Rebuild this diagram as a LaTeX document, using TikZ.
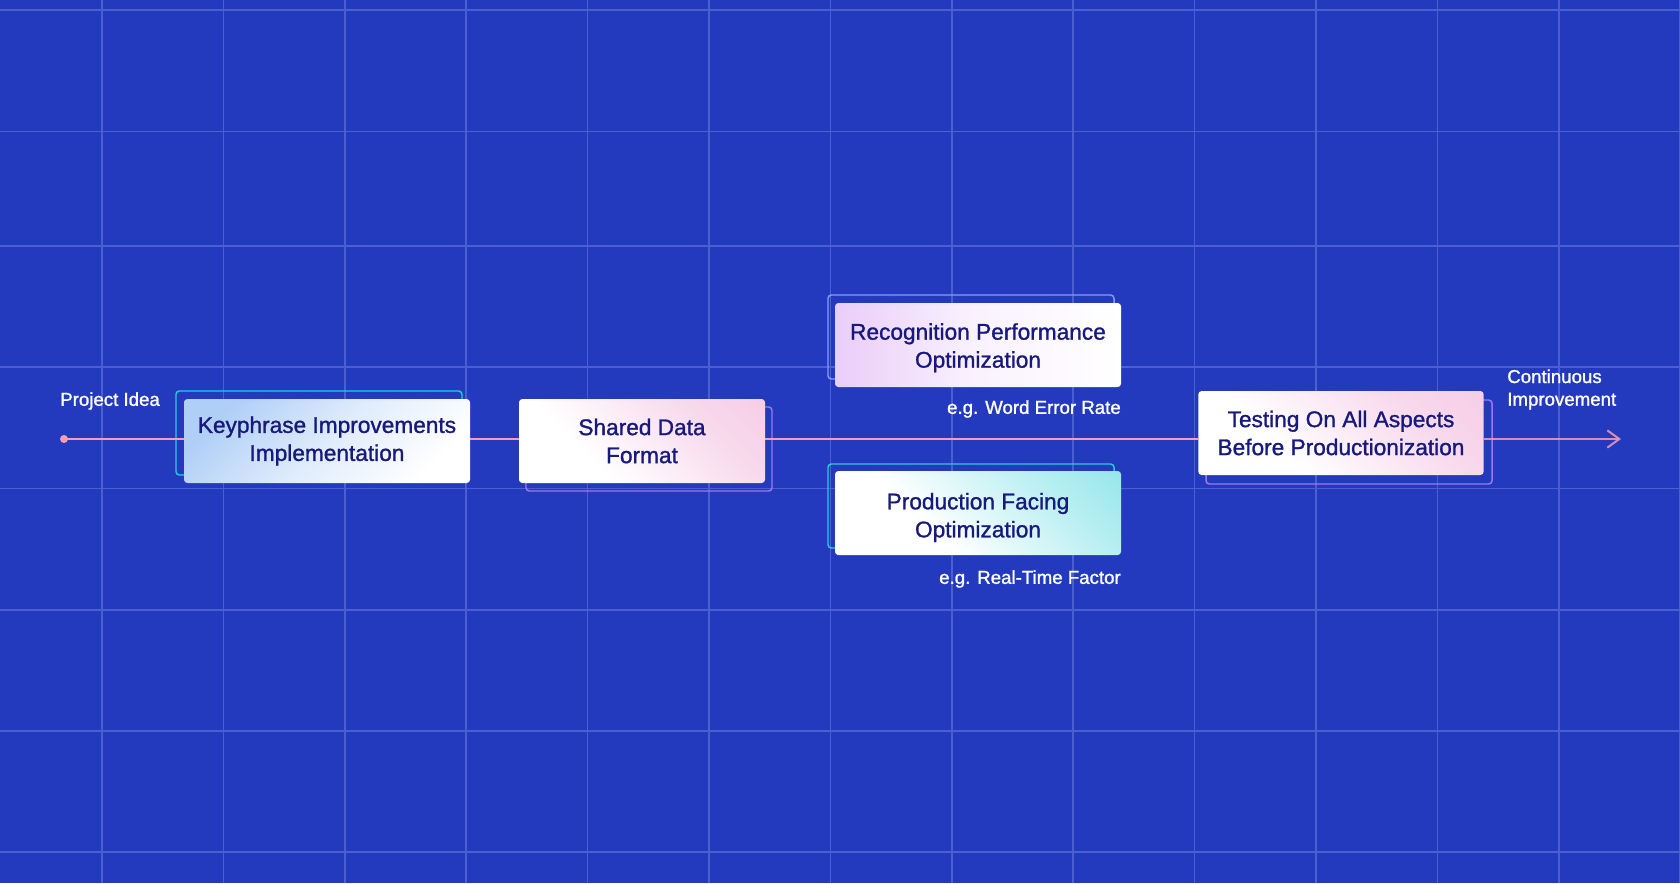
\documentclass[tikz,border=0pt]{standalone}
\usepackage{fontspec}
\setmainfont{Liberation Sans}[FakeBold=1.2]
\usepackage{tikz}
\usetikzlibrary{arrows.meta, calc}
\definecolor{bgblue}{HTML}{233ABF}
\definecolor{gridblue}{HTML}{4A5FD0}
\definecolor{navy}{HTML}{17197C}
\definecolor{linepink}{HTML}{F49DB6}
\definecolor{tealline}{HTML}{27CCDB}
\definecolor{purpline}{HTML}{A476EC}
\definecolor{periline}{HTML}{8A9BF2}
\definecolor{skyfill}{HTML}{B0CFF7}
\definecolor{pinkfill}{HTML}{F4C4E2}
\definecolor{lilacfill}{HTML}{EACDF9}
\definecolor{cyanfill}{HTML}{78E0E6}
\pgfdeclareverticalshading{pinkcorner}{100bp}{color(0bp)=(white); color(35bp)=(white);
  color(68bp)=(pinkfill!65!white); color(100bp)=(pinkfill)}
\pgfdeclareverticalshading{cyancorner}{100bp}{color(0bp)=(white); color(38bp)=(white);
  color(70bp)=(cyanfill!55!white); color(100bp)=(cyanfill)}

\begin{document}
\begin{tikzpicture}[x=0.75pt, y=-0.75pt,
  grid/.style={gridblue, line width=1.1pt},
  timeline/.style={linepink, line width=1.5pt},
  frame/.style={draw=#1, line width=1.1pt, rounded corners=2.5pt, minimum height=63pt, inner sep=0pt},
  box/.style={rounded corners=2.5pt, text=navy, align=center, inner sep=0pt, minimum height=63pt,
    font=\fontsize{17}{21}\selectfont},
  corner/.style={shade, shading=#1, shading angle=-45},
  note/.style={text=white, inner sep=0pt, font=\fontsize{14}{17}\selectfont}]
\useasboundingbox (0,0) rectangle (1680,883);
\fill[bgblue] (0,0) rectangle (1680,883);
\foreach \i in {0,...,13} \draw[grid] ({102+121.4*\i},0)--({102+121.4*\i},883);
\foreach \j in {10,131.5,246,367,488.5,610,731,852} \draw[grid] (0,\j)--(1680,\j);
% frames behind the boxes
\path
(319,433) node[frame=tealline, minimum width=214.5pt] (kpframe) {};
\path
(649,449) node[frame=purpline, minimum width=184.5pt] (sdfframe) {};
\path
(971,337) node[frame=periline, minimum width=214.5pt] (rpoframe) {};
\path
(971,506) node[frame=tealline, minimum width=214.5pt] (pfoframe) {};
\path
(1349,442) node[frame=purpline, minimum width=214.5pt] (tstframe) {};
% boxes
\path
(327,441) node[box, minimum width=214.5pt, top color=skyfill, bottom color=white,
  middle color=skyfill!40!white, shading angle=45] (kp)
{Keyphrase Improvements\\Implementation};
\path
(642,441) node[box, minimum width=184.5pt, corner=pinkcorner] (sdf)
{Shared Data\\Format};
\path
(978,345) node[box, minimum width=214.5pt, left color=lilacfill, right color=white,
  middle color=lilacfill!25!white] (rpo)
{\rule{0pt}{16.5pt}Recognition Performance\\Optimization};
\path
(978,513) node[box, minimum width=214.5pt, corner=cyancorner] (pfo)
{\rule{0pt}{19pt}Production Facing\\Optimization};
\path
(1341,433) node[box, minimum width=214pt, corner=pinkcorner] (tst)
{Testing On All Aspects\\Before Productionization};
% timeline
\coordinate (start) at (64,439);
\coordinate (end) at (1621,439);
\fill[linepink] (start) circle (3pt);
\draw[timeline] (start)--(start -| kp.west);
\draw[timeline] (start -| kp.east)--(start -| sdf.west);
\draw[timeline] (start -| sdf.east)--(start -| tst.west);
\draw[timeline, opacity=0.85, -{Straight Barb[length=9pt, width=13pt]}] (start -| tst.east)--(end);
% labels
\path
(60,401) node[note, anchor=west] (idea) {Project Idea};
\path
(1121,409) node[note, anchor=east] (wer) {e.g. Word Error Rate};
\path
(1121,579) node[note, anchor=east] (rtf) {e.g. Real-Time Factor};
\path
(1507,389.5) node[note, anchor=west, align=left] (ci) {Continuous\\Improvement};
\end{tikzpicture}
\end{document}
